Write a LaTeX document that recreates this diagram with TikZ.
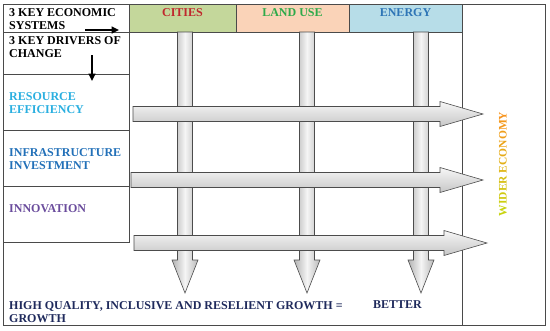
\documentclass[tikz,border=0pt]{standalone}
\usepackage{fontspec}
\setmainfont{Liberation Serif}
\usetikzlibrary{arrows.meta,calc,positioning}
\definecolor{ink}{HTML}{000000}
\definecolor{rule}{HTML}{4A4A4A}
\definecolor{citiesFill}{HTML}{C4D79B}
\definecolor{landFill}{HTML}{FAD3B8}
\definecolor{energyFill}{HTML}{B7DDE8}
\definecolor{citiesText}{HTML}{C0282D}
\definecolor{landText}{HTML}{2EAA4A}
\definecolor{energyText}{HTML}{2E75B6}
\definecolor{resourceText}{HTML}{2AAFE0}
\definecolor{infraText}{HTML}{2270B8}
\definecolor{innovText}{HTML}{6A4C9C}
\definecolor{growthText}{HTML}{1F2A5C}
\definecolor{econBottom}{HTML}{C8D30F}
\definecolor{econTop}{HTML}{F7941D}
\tikzset{
    >={Triangle[length=2.6mm,width=2.4mm]},
    cell/.style={draw=rule, line width=0.8pt, inner sep=0pt},
    row label/.style={anchor=base west, inner sep=0pt, align=left,
                     font=\fontsize{12}{13}\selectfont\bfseries},
    head label/.style={anchor=base, inner sep=0pt,
                      font=\fontsize{12}{13}\selectfont\bfseries},
    down shaft/.style={draw=gray!60!black, line width=0.6pt,
                      left color=gray!60, right color=gray!55, middle color=gray!8},
    across shaft/.style={draw=gray!60!black, line width=0.6pt,
                        top color=gray!6, bottom color=gray!45},
    pointer/.style={ink, line width=2.2pt, ->},
}
\newcommand{\econ}[2]{\textcolor{econTop!#1!econBottom}{#2}}

\begin{document}
\begin{tikzpicture}[x=1pt, y=-1pt]
\useasboundingbox (0,0) rectangle (550,330);

% Frame and the grid of cells.
\node[cell, minimum width=542pt, minimum height=321pt] (frame) at (274,164.5) {};
\node[cell, fill=citiesFill, minimum width=107pt, minimum height=28pt] (cities) at (182.5,18) {};
\node[cell, fill=landFill, minimum width=113pt, minimum height=28pt] (landuse) at (292.5,18) {};
\node[cell, fill=energyFill, minimum width=113pt, minimum height=28pt] (energy) at (405.5,18) {};
\node[cell, minimum width=83pt, minimum height=321pt] (wider) at (503.5,164.5) {};
\node[cell, minimum width=126pt, minimum height=28pt] (systems) at (66,18) {};
\node[cell, minimum width=126pt, minimum height=42pt] (drivers) at (66,53) {};
\node[cell, minimum width=126pt, minimum height=56pt] (resource) at (66,102) {};
\node[cell, minimum width=126pt, minimum height=56pt] (infra) at (66,158) {};
\node[cell, minimum width=126pt, minimum height=56pt] (innov) at (66,214) {};

% Header texts.
\node[head label, text=citiesText] (citiesT) at (cities |- 0,16) {CITIES};
\node[head label, text=landText] (landT) at (landuse |- 0,16) {LAND USE};
\node[head label, text=energyText] (energyT) at (energy |- 0,16) {ENERGY};

% Row texts down the left column (placed on the baseline of their last line).
\node[row label] (systemsT) at (9,29) {3 KEY ECONOMIC\\SYSTEMS};
\node[row label] (driversT) at (9,57) {3 KEY DRIVERS OF\\CHANGE};
\node[row label, text=resourceText] (resourceT) at (9,113) {RESOURCE\\EFFICIENCY};
\node[row label, text=infraText] (infraT) at (9,169) {INFRASTRUCTURE\\INVESTMENT};
\node[row label, text=innovText] (innovT) at (9,212) {INNOVATION};
\node[row label, text=growthText] (growthT) at (9,322)
    {HIGH QUALITY, INCLUSIVE AND RESELIENT GROWTH =\\GROWTH};
\node[row label, text=growthText] (betterT) at (373,308) {BETTER};

% Rotated label of the right column.
\node[inner sep=0pt, rotate=90, font=\fontsize{11.5}{13}\selectfont\bfseries]
    (widerT) at (503,164)
    {\econ{0}{W}\econ{8}{I}\econ{16}{D}\econ{24}{E}\econ{32}{R} \econ{48}{E}\econ{56}{C}\econ{64}{O}\econ{74}{N}\econ{84}{O}\econ{92}{M}\econ{100}{Y}};

% Black pointers from the two header rows.
\coordinate (sysFrom) at (85,30);
\coordinate (sysTo) at (119,30);
\coordinate (drvFrom) at (92,55);
\coordinate (drvTo) at (92,81);
\draw[pointer] (sysFrom) -- (sysTo);
\draw[pointer] (drvFrom) -- (drvTo);

% Three downward shafts, one per economic system.
\foreach \c in {185,307,421} {
    \shadedraw[down shaft] (\c-7.5,32) -- (\c+7.5,32) -- (\c+7.5,260) -- (\c+13,260)
        -- (\c,293) -- (\c-13,260) -- (\c-7.5,260) -- cycle;
}

% Three shafts across, one per driver of change.
\foreach \y/\a/\b in {114/133/483,180/131/483,243/134/487} {
    \shadedraw[across shaft] (\a,\y-7.5) -- (\b-43,\y-7.5) -- (\b-43,\y-12.5)
        -- (\b,\y) -- (\b-43,\y+12.5) -- (\b-43,\y+7.5) -- (\a,\y+7.5) -- cycle;
}

\end{tikzpicture}
\end{document}
